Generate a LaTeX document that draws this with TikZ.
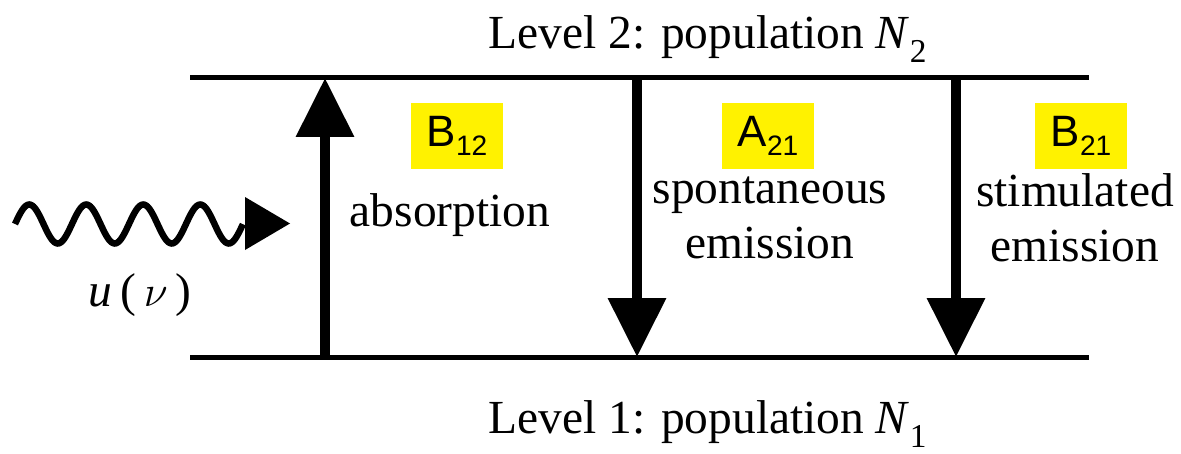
\documentclass[tikz,border=0pt]{standalone}
\usepackage{fontspec}
\setmainfont{Liberation Serif}
\newfontfamily\arialfont{Liberation Sans}
\usetikzlibrary{arrows.meta}
\newcommand{\levidx}[1]{\raisebox{-0.28em}{\fontsize{19}{19}\selectfont #1}}
\newcommand{\coefidx}[1]{\raisebox{-5pt}{\fontsize{16}{16}\selectfont #1}}
\tikzset{
  level/.style={line width=0.1cm},
  trans/.style={line width=0.2cm,-{Triangle[length=1.18cm,width=1.12cm]}},
  wave/.style={line width=0.13cm},
  coef/.style={fill=yellow,minimum width=1.84cm,minimum height=1.32cm,inner sep=0pt,font=\arialfont\fontsize{25}{25}\selectfont},
  label/.style={align=center,font=\fontsize{27}{31}\selectfont}
}
\begin{document}
\begin{tikzpicture}
	\useasboundingbox (0,0) rectangle (23.62,9.06);
	% Niveaus
	\coordinate (t1) at (3.8,7.5);
	\coordinate (t2) at (21.78,7.5);
	\coordinate (b1) at (3.8,1.92);
	\coordinate (b2) at (21.78,1.92);
	\draw[level] (t1) -- (t2);
	\draw[level] (b1) -- (b2);
	\node[label] (lev2) at (14.15,8.28) {Level 2: population \textit{N}\levidx{2}};
	\node[label] (lev1) at (14.15,0.58) {Level 1: population \textit{N}\levidx{1}};
	% Uebergaenge
	\draw[trans] (6.5,1.92) coordinate (absb) -- (6.5,7.5) coordinate (abst);
	\draw[trans] (12.74,7.5) coordinate (spot) -- (12.74,1.92) coordinate (spob);
	\draw[trans] (19.12,7.5) coordinate (stit) -- (19.12,1.92) coordinate (stib);
	% Koeffizienten
	\node[coef] (b12) at (9.14,6.34) {B\coefidx{12}};
	\node[coef] (a21) at (15.36,6.34) {A\coefidx{21}};
	\node[coef] (b21) at (21.62,6.34) {B\coefidx{21}};
	\node[label] (abs) at (9.0,4.76) {absorption};
	\node[label] (spo) at (15.4,4.7) {spontaneous\\emission};
	\node[label] (sti) at (21.5,4.7) {stimulated\\emission};
	% Welle
	\coordinate (ws) at (0.3,4.58);
	\coordinate (we) at (4.86,4.58);
	\draw[wave,shift={(ws)}] plot[domain=0:4.56,samples=161,smooth] (\x,{0.39*sin(\x*360/1.14)});
	\fill (we) ++(0.04,0.54) -- ++(0.9,-0.53) -- ++(-0.9,-0.53) -- cycle;
	\node[label] (u) at (2.8,3.16) {\textit{u}\,(\,$\nu$\,)};
\end{tikzpicture}
\end{document}
